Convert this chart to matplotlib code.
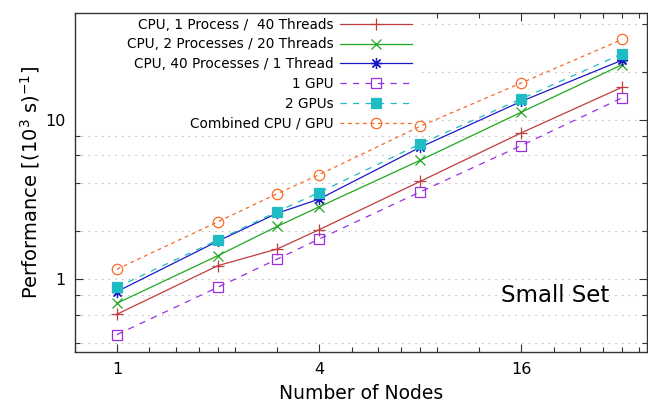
import matplotlib
matplotlib.use("Agg")
import matplotlib.pyplot as plt
from matplotlib.ticker import LogLocator, FormatStrFormatter, NullFormatter
from matplotlib.patches import Rectangle

# data
nodes = [1, 2, 3, 4, 8, 16, 32]
cpu_1p40t = [0.604, 1.22, 1.55, 2.05, 4.12, 8.31, 16.1]
cpu_2p20t = [0.708, 1.41, 2.15, 2.85, 5.59, 11.2, 22.3]
cpu_40p1t = [0.838, 1.74, 2.60, 3.19, 6.75, 13.1, 23.8]
gpu_1 = [0.45, 0.893, 1.34, 1.79, 3.54, 6.92, 13.8]
gpu_2 = [0.893, 1.77, 2.66, 3.51, 7.08, 13.6, 26.1]
combined = [1.159, 2.30, 3.45, 4.54, 9.14, 17.1, 32.1]

labels = ["CPU, 1 Process /  40 Threads",
          "CPU, 2 Processes / 20 Threads",
          "CPU, 40 Processes / 1 Thread",
          "1 GPU",
          "2 GPUs",
          "Combined CPU / GPU"]

plt.rcParams['font.family'] = ['DejaVu Sans']

fig = plt.figure(figsize=(6.48, 4.03), dpi=100)
ax = fig.add_axes([0.1157, 0.1266, 0.882, 0.841])
ax.set_xscale('log')
ax.set_yscale('log')

ax.plot(nodes, cpu_1p40t, color='#c03c3c', lw=0.9, marker='+', ms=8, mew=0.9, label=labels[0], zorder=4)
ax.plot(nodes, cpu_2p20t, color='#1fa81f', lw=0.9, marker='x', ms=7, mew=0.9, label=labels[1], zorder=4)
ax.plot(nodes, cpu_40p1t, color='#1a1ac8', lw=0.9, marker=(8, 2, 0), ms=8, mew=0.9, label=labels[2], zorder=4)
ax.plot(nodes, gpu_1, color='#9a2ee0', lw=0.9, ls=(0, (5, 5)), marker='s', ms=7, mfc='none', mew=0.9, label=labels[3], zorder=4)
ax.plot(nodes, gpu_2, color='#20bcc4', lw=0.9, ls=(0, (5, 5)), marker='s', ms=7.5, mew=0.9, label=labels[4], zorder=5)
ax.plot(nodes, combined, color='#f86a26', lw=0.9, ls=(0, (3, 3)), marker='o', ms=7.5, mfc='none', mew=0.9, label=labels[5], zorder=4)

ax.set_xlim(0.75, 37.8)
ax.set_ylim(0.35, 47)

ax.xaxis.set_major_locator(LogLocator(base=4, subs=(1.0,)))
ax.xaxis.set_minor_locator(LogLocator(base=4, subs=(1.25, 1.5, 1.75, 2, 2.25, 3)))
ax.xaxis.set_major_formatter(FormatStrFormatter('%g'))
ax.xaxis.set_minor_formatter(NullFormatter())
ax.yaxis.set_major_locator(LogLocator(base=10))
ax.yaxis.set_minor_locator(LogLocator(base=10, subs=(2, 4, 6, 8)))
ax.yaxis.set_major_formatter(FormatStrFormatter('%g'))
ax.yaxis.set_minor_formatter(NullFormatter())

ax.tick_params(which='both', direction='in', top=True, right=True, labelsize=11.5, width=0.8,
               color='#333333', pad=7)
ax.tick_params(which='major', length=6)
ax.tick_params(which='minor', length=3.5)
for s in ax.spines.values():
    s.set_linewidth(1.0)
    s.set_color('#333333')

ax.grid(True, which='both', axis='y', color='#a8a8a8', lw=0.8, ls=(0, (1, 5)), zorder=0)
ax.set_axisbelow(True)

# white area behind the key
ax.add_patch(Rectangle((0, 0.66), 0.608, 0.34, transform=ax.transAxes, facecolor='white',
                       edgecolor='none', zorder=1.5))

leg = ax.legend(loc='upper right', bbox_to_anchor=(0.607, 1.015), markerfirst=False,
                frameon=False, fontsize=9.8, handlelength=5.3, handletextpad=0.5,
                labelspacing=0.43, borderpad=0.2)

ax.text(0.84, 0.168, "Small Set", transform=ax.transAxes, fontsize=16.5,
        ha='center', va='center')

ax.set_xlabel("Number of Nodes", fontsize=13.5, labelpad=5)
ax.set_ylabel("Performance [(10$^3$ s)$^{-1}$]", fontsize=14, labelpad=2)

fig.savefig("out.png", dpi=100)
